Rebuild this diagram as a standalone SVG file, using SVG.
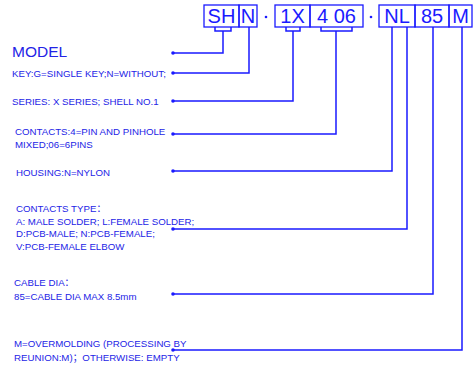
<svg xmlns="http://www.w3.org/2000/svg" width="474" height="367" viewBox="0 0 474 367">
<style>
.t{font-family:"Liberation Sans","Noto Sans CJK SC",sans-serif;font-size:9.7px;fill:#2323e6}
.b{font-family:"Liberation Sans",sans-serif;font-size:20px;fill:#1a1aff}
.box{fill:none;stroke:#1a1aff;stroke-width:1.3}
.c{fill:none;stroke:#1a1aff;stroke-width:1.5}
.d{fill:#1a1aff}
</style>
<rect width="474" height="367" fill="#fff"/>
<g id="code">
<g id="box-SH"><rect class="box" x="204" y="5" width="35" height="22"/><text class="b" x="221.5" y="23" text-anchor="middle">SH</text></g>
<g id="box-N"><rect class="box" x="239" y="5" width="18" height="22"/><text class="b" x="248" y="23" text-anchor="middle">N</text></g>
<g id="dot1"><circle class="d" cx="266" cy="17" r="1.3"/></g>
<g id="box-1X"><rect class="box" x="275" y="5" width="35" height="22"/><text class="b" x="292.5" y="23" text-anchor="middle">1X</text></g>
<g id="box-406"><rect class="box" x="310" y="5" width="53" height="22"/><text class="b" x="336.5" y="23" text-anchor="middle">4 06</text></g>
<g id="dot2"><circle class="d" cx="371" cy="17" r="1.3"/></g>
<g id="box-NL"><rect class="box" x="379" y="5" width="36" height="22"/><text class="b" x="397" y="23" text-anchor="middle">NL</text></g>
<g id="box-85"><rect class="box" x="415" y="5" width="34" height="22"/><text class="b" x="432" y="23" text-anchor="middle">85</text></g>
<g id="box-M"><rect class="box" x="449" y="5" width="23" height="22"/><text class="b" x="460.5" y="23" text-anchor="middle">M</text></g>
</g>
<g id="connectors">
<path class="c" d="M215,27V31H231V27"/>
<path class="c" d="M223,31V53H173"/>
<path class="c" d="M249,27V73H173"/>
<path class="c" d="M286,27V31H300V27"/>
<path class="c" d="M293,31V101H173"/>
<path class="c" d="M321,27V31H352V27"/>
<path class="c" d="M336,31V134H173"/>
<path class="c" d="M392,27V171H173"/>
<path class="c" d="M407,27V229H173"/>
<path class="c" d="M433,27V294H173"/>
<path class="c" d="M462,27V350H173"/>
<circle class="d" cx="173" cy="53" r="1.8"/>
<circle class="d" cx="173" cy="73" r="1.8"/>
<circle class="d" cx="173" cy="101" r="1.8"/>
<circle class="d" cx="173" cy="134" r="1.8"/>
<circle class="d" cx="173" cy="171" r="1.8"/>
<circle class="d" cx="173" cy="229" r="1.8"/>
<circle class="d" cx="173" cy="294" r="1.8"/>
<circle class="d" cx="173" cy="350" r="1.8"/>
</g>
<g id="model"><text class="t" x="12" y="57" style="font-size:15.5px">MODEL</text></g>
<g id="key"><text class="t" x="12" y="77">KEY:G=SINGLE KEY;N=WITHOUT;</text></g>
<g id="series"><text class="t" x="12" y="104.5">SERIES: X SERIES; SHELL NO.1</text></g>
<g id="contacts"><text class="t" x="15" y="135">CONTACTS:4=PIN AND PINHOLE</text><text class="t" x="15" y="148">MIXED;06=6PINS</text></g>
<g id="housing"><text class="t" x="16" y="176">HOUSING:N=NYLON</text></g>
<g id="ctype"><text class="t" x="16" y="212">CONTACTS TYPE：</text><text class="t" x="16" y="224.5">A: MALE SOLDER; L:FEMALE SOLDER;</text><text class="t" x="16" y="237">D:PCB-MALE; N:PCB-FEMALE;</text><text class="t" x="16" y="249.5">V:PCB-FEMALE ELBOW</text></g>
<g id="cable"><text class="t" x="14" y="285.5">CABLE DIA：</text><text class="t" x="14" y="299.5">85=CABLE DIA MAX 8.5mm</text></g>
<g id="overmold"><text class="t" x="14" y="347">M=OVERMOLDING (PROCESSING BY</text><text class="t" x="14" y="360.5">REUNION:M)；OTHERWISE: EMPTY</text></g>
</svg>
